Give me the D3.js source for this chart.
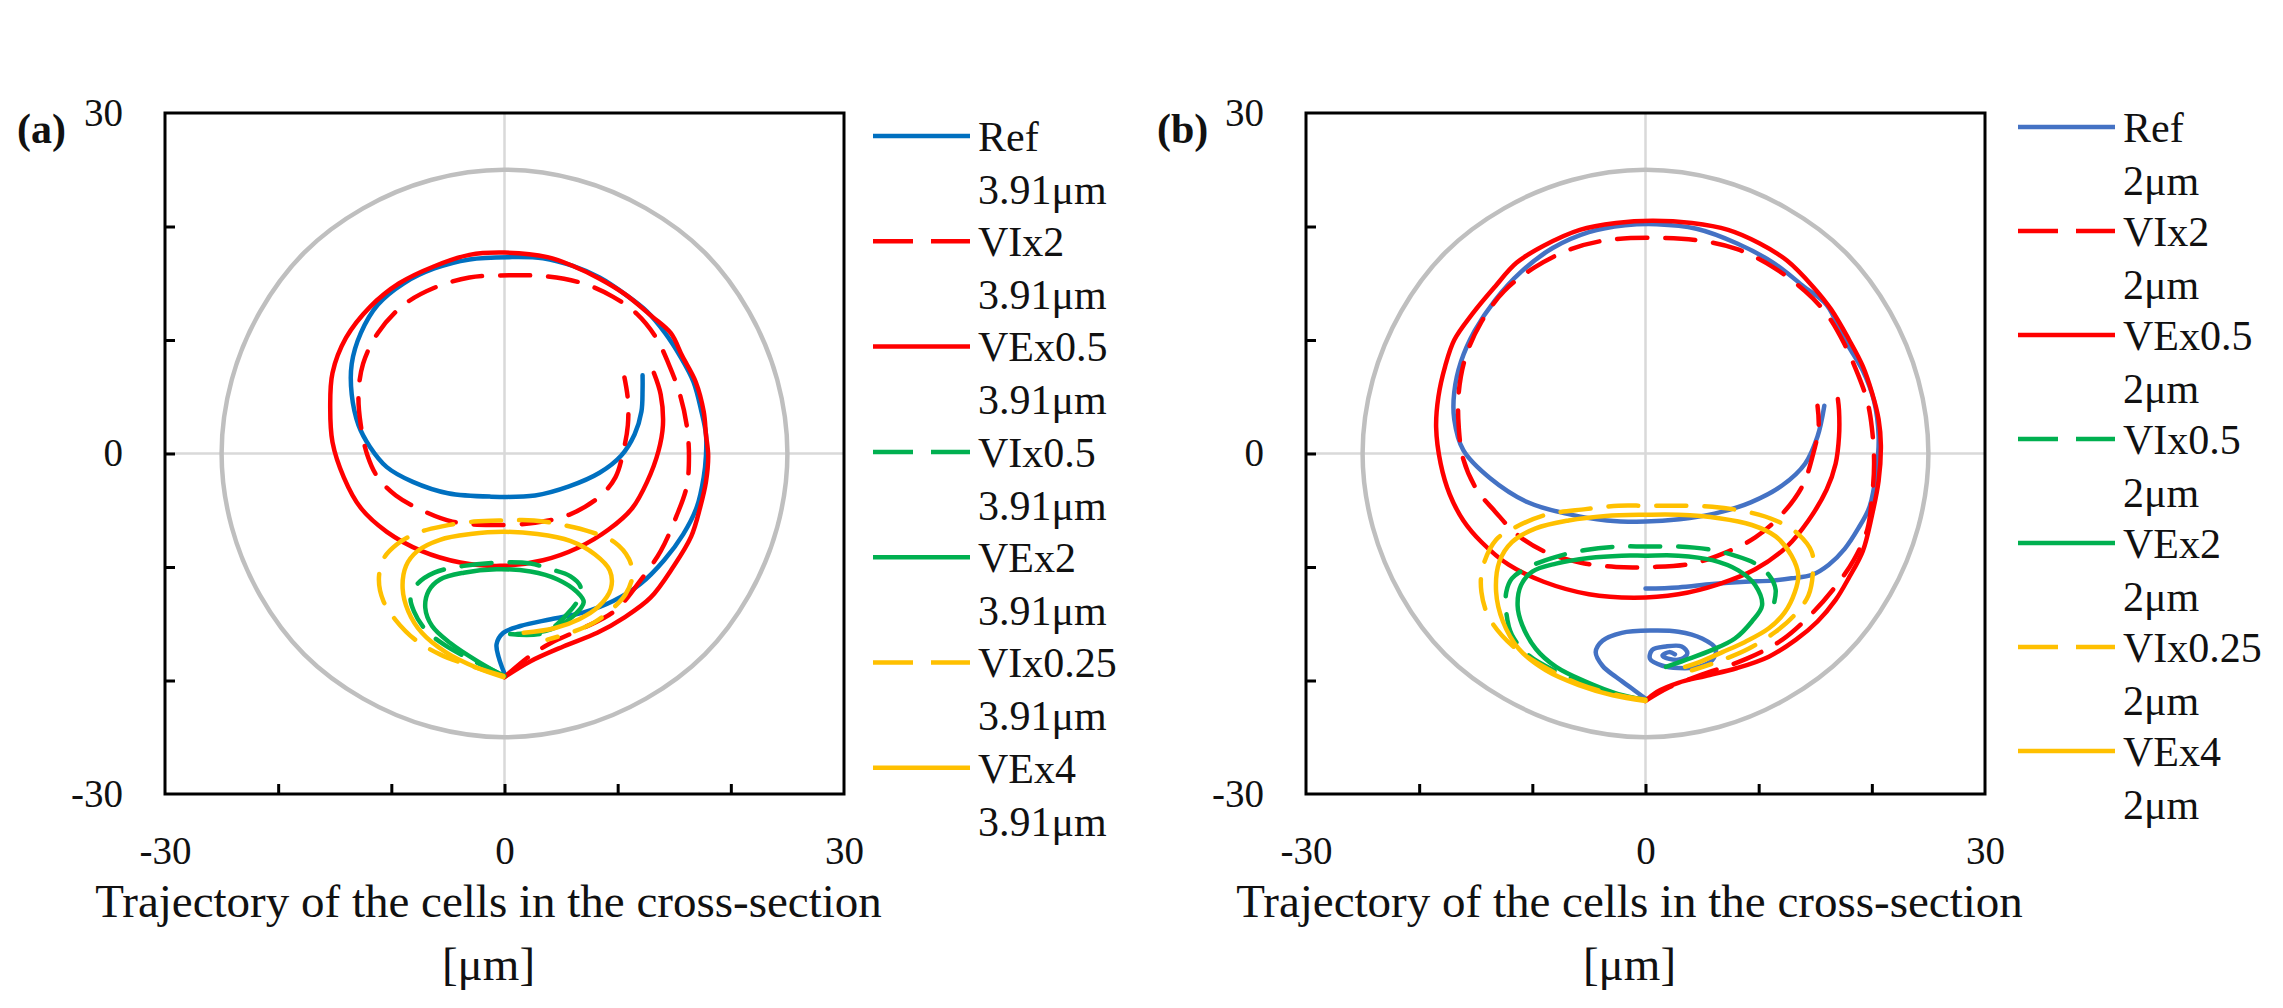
<!DOCTYPE html>
<html>
<head>
<meta charset="utf-8">
<script src="https://cdn.jsdelivr.net/npm/d3@7"></script>
<style>
  body { margin: 0; background: #fff; }
  svg text { font-family: "Liberation Serif", "Times New Roman", serif; fill: #111; }
</style>
</head>
<body>
<svg id="chart"></svg>
<script>
// axis values
const minorTicks = [-20, -10, 0, 10, 20];
const tickLabels = [-30, 0, 30];
const seriesNames = ["Ref", "VIx2", "VEx0.5", "VIx0.5", "VEx2", "VIx0.25", "VEx4"];

// channel wall (same cross-section in both panels)
const wall = [[0,25],[6.5,24.1],[12.5,21.6],[17.7,17.7],[21.6,12.5],[24.1,6.5],[25,0],[24.1,-6.5],
  [21.6,-12.5],[17.7,-17.7],[12.5,-21.6],[6.5,-24.1],[0,-25],[-6.5,-24.1],[-12.5,-21.6],[-17.7,-17.7],
  [-21.6,-12.5],[-24.1,-6.5],[-25,0],[-24.1,6.5],[-21.6,12.5],[-17.7,17.7],[-12.5,21.6],[-6.5,24.1]];

// panel (a), 3.91um
const refA = [[0,-19.4],[-0.5,-18.0],[-0.7,-16.8],[-0.1,-15.8],[1.4,-15.2],[4.1,-14.6],[7.0,-14.0],[9.6,-13.0],
  [12.0,-11.5],[14.1,-9.4],[15.8,-7.1],[17.0,-4.7],[17.6,-2.1],[17.8,-0.2],[17.8,1.7],[17.4,3.7],[16.7,6.3],
  [15.5,8.6],[14.2,10.6],[12.6,12.5],[10.7,14.0],[8.4,15.5],[6.1,16.5],[3.4,17.2],[0.4,17.3],[-3.1,17.1],
  [-6.2,16.3],[-8.9,15.0],[-11.2,13.1],[-12.7,10.6],[-13.5,7.9],[-13.5,5.2],[-12.9,2.5],[-11.9,0.6],
  [-10.4,-1.2],[-8.1,-2.5],[-5.0,-3.5],[-1.2,-3.8],[2.7,-3.7],[5.7,-2.9],[8.4,-1.7],[10.3,-0.2],[11.5,1.7],
  [12.1,3.7],[12.2,5.6],[12.2,6.9]];
const vi2A = [[0,-19.7],[2.3,-17.8],[4.1,-16.7],[6.7,-15.5],[9.7,-13.9],[12.0,-11.2],[13.8,-8.6],[15.2,-5.5],
  [16.1,-2.9],[16.3,-0.2],[16.1,2.5],[15.5,5.2],[14.5,7.9],[13.4,10.2],[11.7,12.3],[9.6,13.8],[6.9,15.0],
  [3.8,15.6],[0.4,15.7],[-3.1,15.5],[-6.2,14.6],[-8.9,13.1],[-11.2,10.6],[-12.5,7.9],[-12.9,5.2],[-12.7,2.5],
  [-12.1,-0.2],[-11.2,-2.1],[-9.6,-3.7],[-7.3,-5.0],[-4.6,-6.0],[-1.2,-6.3],[2.7,-6.1],[5.7,-5.4],[8.4,-3.8],
  [9.8,-2.1],[10.5,0.2],[10.9,2.5],[10.9,4.8],[10.6,6.7]];
const ve05A = [[0,-19.7],[2.3,-18.3],[5.2,-17.0],[8.2,-15.8],[10.5,-14.5],[12.9,-12.7],[14.9,-10.0],[16.5,-7.3],
  [17.3,-4.7],[17.8,-2.5],[18.0,-0.2],[17.8,1.7],[17.6,3.7],[16.9,6.3],[15.7,8.6],[14.7,10.6],[13.0,12.1],
  [10.7,14.0],[8.4,15.4],[6.1,16.5],[3.8,17.3],[0,17.7],[-3.1,17.5],[-6.2,16.5],[-9.3,15.0],[-11.9,12.9],
  [-14.0,10.2],[-15.2,7.1],[-15.4,4.0],[-15.2,1.0],[-14.2,-2.1],[-12.7,-4.8],[-10.4,-6.9],[-7.3,-8.6],
  [-3.9,-9.6],[-0.4,-9.9],[3.4,-9.4],[6.5,-8.3],[9.2,-6.7],[11.3,-4.8],[12.6,-2.5],[13.6,0.2],[14.0,2.5],
  [13.8,5.2],[13.2,7.1]];
const vi05A = [[0,-19.6],[-2.7,-18.3],[-5.4,-16.8],[-7.0,-15.5],[-8.0,-13.9],[-8.3,-12.7],[-7.7,-11.5],
  [-6.2,-10.5],[-3.6,-9.9],[-0.1,-9.6],[2.3,-9.7],[4.1,-10.2],[5.8,-10.8],[6.7,-11.7],[6.6,-12.7],
  [5.5,-14.2],[3.5,-15.8],[0.5,-15.9]];
const ve2A = [[-0.1,-19.6],[-2.4,-18.3],[-4.8,-16.7],[-6.4,-15.2],[-7.0,-13.6],[-6.7,-12.1],[-5.7,-11.1],
  [-3.6,-10.5],[-0.7,-10.2],[2.3,-10.4],[4.7,-11.1],[6.4,-12.2],[7.0,-13.1],[6.1,-14.3],[4.1,-15.5],[1.1,-15.9]];
const vi025A = [[-0.1,-19.6],[-2.7,-18.8],[-5.7,-17.7],[-7.9,-16.4],[-9.6,-14.7],[-10.7,-13.0],[-11.1,-11.1],
  [-10.7,-9.3],[-9.5,-8.0],[-7.7,-7.0],[-5.4,-6.4],[-2.7,-6.0],[-0.1,-5.9],[2.6,-5.9],[5.2,-6.3],[7.6,-6.9],
  [9.7,-7.8],[11.0,-9.3],[11.3,-10.8],[10.7,-12.4],[9.5,-13.7],[7.9,-14.9],[5.8,-15.8],[3.8,-16.4]];
const ve4A = [[-0.1,-19.7],[-2.4,-18.9],[-5.2,-17.5],[-7.3,-15.8],[-8.5,-13.9],[-9.0,-11.9],[-8.7,-9.9],
  [-7.7,-8.6],[-5.7,-7.6],[-3.0,-7.1],[-0.1,-6.9],[2.9,-7.1],[5.8,-7.7],[8.0,-8.9],[9.3,-10.3],[9.4,-11.9],
  [8.3,-13.5],[6.6,-14.6],[4.4,-15.4],[1.7,-15.8]];

// panel (b), 2um  (null = break in the Ref trace)
const refB = [[0,-21.6],[-1.2,-20.7],[-2.6,-19.7],[-3.8,-18.7],[-4.4,-17.5],[-3.8,-16.5],[-2.1,-15.8],
  [0.6,-15.6],[2.9,-15.7],[5.0,-16.3],[6.2,-17.2],[5.9,-18.2],[4.7,-18.8],[2.9,-18.9],[1.5,-18.7],
  [0.4,-18.1],[0.6,-17.3],[1.8,-17.0],[3.2,-17.0],[3.7,-17.6],[3.2,-18.1],[2.1,-18.1],[1.5,-17.8],
  [2.1,-17.5],[2.6,-17.7], null,
  [0,-11.9],[2.9,-11.8],[5.9,-11.5],[8.8,-11.3],[11.2,-11.2],[12.9,-11.0],[14.7,-10.7],[16.2,-9.8],
  [17.6,-8.4],[18.8,-6.6],[19.8,-4.7],[20.4,-1.6],[20.6,1.5],[20.2,4.6],[19.2,7.3],[17.6,10.0],[16.0,13.1],
  [14.0,14.7],[11.3,16.8],[8.1,18.5],[4.5,19.8],[1.0,20.2],[-1.8,20.1],[-5.0,19.5],[-8.2,18.1],[-11.0,16.0],
  [-13.3,13.5],[-15.1,10.8],[-16.3,8.1],[-16.9,5.4],[-16.9,3.0],[-16.1,0.3],[-13.7,-2.2],[-10.4,-4.3],
  [-7.0,-5.3],[-3.4,-5.9],[0,-6.0],[3.0,-5.8],[6.1,-5.3],[9.3,-4.3],[12.1,-2.8],[14.1,-0.9],[15.2,1.5],
  [15.8,4.2]];
const vi2B = [[0,-21.8],[2.1,-20.6],[4.9,-19.5],[8.9,-18.1],[12.1,-16.4],[14.8,-14.0],[16.8,-11.7],[18.4,-9.4],
  [19.6,-6.7],[20.0,-4.0],[20.2,-0.9],[20.0,2.3],[19.6,4.6],[18.8,6.9],[17.6,9.6],[16.0,12.3],[14.1,14.3],
  [11.3,16.4],[8.1,18.0],[4.5,18.8],[0.6,19.0],[-3.4,18.8],[-6.6,18.0],[-9.8,16.4],[-12.5,14.3],[-14.5,11.6],
  [-15.9,8.5],[-16.5,5.4],[-16.5,2.3],[-16.1,-0.5],[-14.9,-3.2],[-13.3,-5.1],[-11.4,-7.1],[-9.0,-8.6],
  [-5.8,-9.6],[-2.6,-10.0],[0.6,-10.0],[4.1,-9.7],[6.9,-8.8],[9.7,-7.4],[12.1,-5.3],[13.9,-2.8],[14.8,-0.1],
  [15.3,2.3],[15.2,4.2]];
const ve05B = [[0,-21.8],[1.0,-21.0],[2.9,-20.2],[5.3,-19.6],[8.1,-18.9],[10.9,-17.9],[13.3,-16.4],[15.2,-14.8],
  [16.8,-12.9],[18.0,-10.9],[19.2,-8.6],[20.0,-5.5],[20.6,-2.4],[20.8,0.7],[20.6,3.0],[20.0,5.4],[19.2,7.7],
  [18.0,10.0],[16.4,12.7],[14.8,14.7],[12.5,17.0],[10.1,18.5],[7.3,19.7],[4.1,20.3],[0.6,20.5],[-2.6,20.3],
  [-5.8,19.7],[-9.0,18.3],[-11.4,16.8],[-13.3,14.7],[-15.3,12.3],[-16.9,10.0],[-17.7,7.7],[-18.3,5.0],
  [-18.5,2.3],[-18.1,-0.9],[-17.3,-3.6],[-16.1,-5.9],[-14.5,-7.8],[-12.1,-9.8],[-9.0,-11.3],[-5.0,-12.4],
  [-1.0,-12.7],[2.9,-12.4],[6.5,-11.5],[9.7,-10.2],[12.5,-8.2],[14.4,-5.9],[16.0,-3.2],[16.8,-0.9],
  [17.1,1.5],[17.1,3.8],[17.0,4.8]];
const vi05B = [[0,-21.7],[-2.4,-21.3],[-5.0,-20.4],[-7.9,-19.2],[-10.3,-17.8],[-11.8,-16.0],[-12.3,-14.0],
  [-12.3,-12.2],[-11.8,-11.0],[-10.3,-10.0],[-7.9,-9.1],[-5.3,-8.5],[-2.4,-8.2],[0,-8.2],[2.9,-8.2],[5.9,-8.5],
  [7.9,-9.0],[9.7,-9.7],[10.9,-10.7],[11.5,-12.0],[11.2,-13.8]];
const ve2B = [[0,-21.7],[-2.4,-21.2],[-5.3,-20.1],[-7.9,-18.8],[-9.7,-17.2],[-10.9,-15.1],[-11.3,-13.4],
  [-11.0,-11.6],[-10.0,-10.4],[-7.9,-9.7],[-5.0,-9.2],[-2.1,-9.0],[0,-9.0],[2.9,-9.0],[5.9,-9.4],[8.2,-10.3],
  [9.7,-11.6],[10.3,-13.4],[9.4,-14.8],[7.9,-16.3],[5.9,-17.3],[3.5,-18.2],[1.8,-18.8]];
const vi025B = [[0,-21.7],[-2.9,-21.2],[-5.9,-20.3],[-8.8,-18.9],[-11.8,-16.9],[-13.8,-14.5],[-14.5,-12.2],
  [-14.4,-10.1],[-13.2,-7.6],[-11.5,-6.5],[-8.8,-5.4],[-5.3,-4.9],[-2.4,-4.6],[0,-4.6],[2.9,-4.6],[5.9,-4.7],
  [8.8,-5.1],[11.5,-5.9],[13.5,-7.1],[14.7,-8.7],[14.8,-10.4],[14.4,-12.5],[13.2,-14.2],[11.5,-15.7],
  [9.1,-17.2],[6.5,-18.3],[4.1,-19.1]];
const ve4B = [[0,-21.8],[-2.9,-21.3],[-5.9,-20.4],[-8.8,-19.1],[-11.2,-17.2],[-12.6,-14.8],[-13.2,-12.2],
  [-12.9,-9.5],[-11.8,-7.8],[-9.7,-6.6],[-6.8,-5.9],[-3.5,-5.5],[0,-5.4],[2.9,-5.4],[6.5,-5.7],[9.4,-6.3],
  [11.5,-7.3],[12.9,-9.0],[13.5,-10.7],[13.2,-12.2],[12.3,-14.0],[10.9,-15.4],[8.8,-16.6],[6.8,-17.5],
  [4.7,-18.4],[3.5,-18.8]];

const W = 2283, H = 1008;
const plotW = 679, plotH = 681;
const serif = "Liberation Serif, Times New Roman, serif";

const svg = d3.select("#chart").attr("width", W).attr("height", H)
  .attr("font-family", serif);
svg.append("rect").attr("width", W).attr("height", H).attr("fill", "#fff");

const styles = [
  { dash: null }, { dash: "30,18" }, { dash: null }, { dash: "30,18" },
  { dash: null }, { dash: "30,18" }, { dash: null }
];

function drawPanel(p) {
  const g = svg.append("g").attr("transform", `translate(${p.left},${p.top})`);
  const x = d3.scaleLinear().domain([-30, 30]).range([0, plotW]);
  const y = d3.scaleLinear().domain([-30, 30]).range([plotH, 0]);

  // zero gridlines
  g.append("line").attr("x1", x(0)).attr("x2", x(0)).attr("y1", 0).attr("y2", plotH)
    .attr("stroke", "#d9d9d9").attr("stroke-width", 2.5);
  g.append("line").attr("x1", 0).attr("x2", plotW).attr("y1", y(0)).attr("y2", y(0))
    .attr("stroke", "#d9d9d9").attr("stroke-width", 2.5);

  // channel wall
  g.append("path").datum(wall)
    .attr("d", d3.line().x(d => x(d[0])).y(d => y(d[1])).curve(d3.curveCatmullRomClosed))
    .attr("fill", "none").attr("stroke", "#bfbfbf").attr("stroke-width", 4.5);

  const line = d3.line().defined(d => d !== null)
    .x(d => x(d[0])).y(d => y(d[1])).curve(d3.curveCatmullRom);

  p.series.forEach((s, i) => {
    g.append("path").datum(s)
      .attr("d", line)
      .attr("fill", "none")
      .attr("stroke", p.colors[i])
      .attr("stroke-width", 4.5)
      .attr("stroke-linecap", "round")
      .attr("stroke-linejoin", "round")
      .attr("stroke-dasharray", styles[i].dash);
  });

  // ticks pointing inward
  g.append("g").call(d3.axisLeft(y).tickValues(minorTicks).tickSize(-10).tickFormat(""))
    .call(a => a.select(".domain").remove())
    .selectAll("line").attr("stroke", "#000").attr("stroke-width", 3);
  g.append("g").attr("transform", `translate(0,${plotH})`)
    .call(d3.axisBottom(x).tickValues(minorTicks).tickSize(-10).tickFormat(""))
    .call(a => a.select(".domain").remove())
    .selectAll("line").attr("stroke", "#000").attr("stroke-width", 3);

  // tick labels (plain hyphen like the original)
  const fmt = d => String(d);
  g.append("g").call(d3.axisLeft(y).tickValues(tickLabels).tickSize(0).tickPadding(42).tickFormat(fmt))
    .attr("font-family", serif).attr("font-size", 39)
    .call(a => a.select(".domain").remove())
    .selectAll("text").attr("fill", "#111");
  g.append("g").attr("transform", `translate(0,${plotH})`)
    .call(d3.axisBottom(x).tickValues(tickLabels).tickSize(0).tickPadding(42).tickFormat(fmt))
    .attr("font-family", serif).attr("font-size", 39)
    .call(a => a.select(".domain").remove())
    .selectAll("text").attr("fill", "#111");

  // plot border
  g.append("rect").attr("width", plotW).attr("height", plotH)
    .attr("fill", "none").attr("stroke", "#000").attr("stroke-width", 3);

  // axis title
  const cx = plotW / 2 - 16;
  g.append("text").attr("x", cx).attr("y", 804).attr("text-anchor", "middle")
    .attr("font-family", serif).attr("font-size", 47).text("Trajectory of the cells in the cross-section");
  g.append("text").attr("x", cx).attr("y", 867).attr("text-anchor", "middle")
    .attr("font-family", serif).attr("font-size", 47).text("[\u03bcm]");

  // panel letter
  svg.append("text").attr("x", p.letterX).attr("y", 143)
    .attr("font-family", serif).attr("font-size", 42).attr("font-weight", "bold").text(p.letter);

  // legend
  const lg = svg.append("g").attr("transform", `translate(${p.legendX},${p.legendY})`)
    .attr("font-family", serif);
  seriesNames.forEach((name, i) => {
    const yy = i * p.legendStep;
    lg.append("line").attr("x1", 0).attr("x2", 97).attr("y1", yy).attr("y2", yy)
      .attr("stroke", p.colors[i]).attr("stroke-width", 4.5)
      .attr("stroke-dasharray", styles[i].dash ? "40,18" : null);
    lg.append("text").attr("x", 105).attr("y", yy).attr("dy", "0.35em")
      .attr("font-family", serif).attr("font-size", 42).text(name);
    lg.append("text").attr("x", 105).attr("y", yy + 53).attr("dy", "0.35em")
      .attr("font-family", serif).attr("font-size", 42).text(p.sub);
  });
}

drawPanel({
  left: 165, top: 113, letter: "(a)", letterX: 17,
  legendX: 873, legendY: 136, legendStep: 105.3, sub: "3.91\u03bcm",
  colors: ["#0070c0", "#ff0000", "#ff0000", "#00b050", "#00b050", "#ffc000", "#ffc000"],
  series: [refA, vi2A, ve05A, vi05A, ve2A, vi025A, ve4A]
});
drawPanel({
  left: 1306, top: 113, letter: "(b)", letterX: 1157,
  legendX: 2018, legendY: 127, legendStep: 104, sub: "2\u03bcm",
  colors: ["#4472c4", "#ff0000", "#ff0000", "#00b050", "#00b050", "#ffc000", "#ffc000"],
  series: [refB, vi2B, ve05B, vi05B, ve2B, vi025B, ve4B]
});
</script>
</body>
</html>
